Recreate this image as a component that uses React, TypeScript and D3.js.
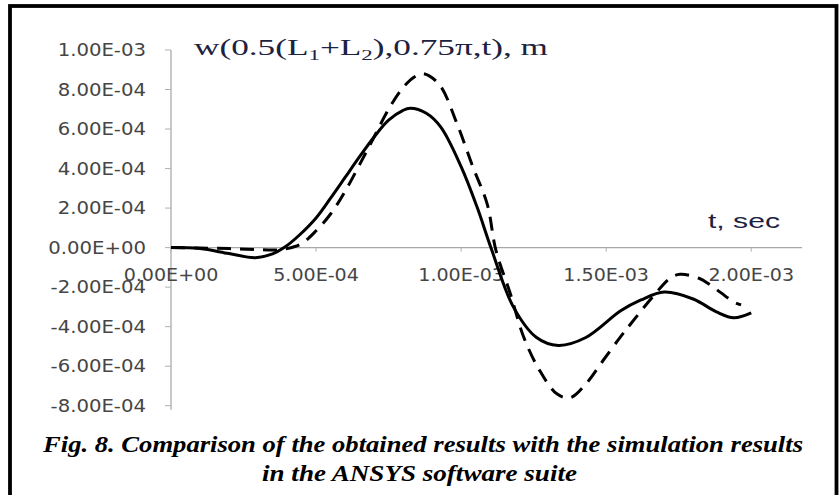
import * as d3 from "d3";

// time in seconds, deflection in metres
const solidT = [0, 1.0e-4, 2.0e-4, 2.9e-4, 3.5e-4, 3.9e-4, 4.4e-4, 5.0e-4, 5.5e-4, 6.0e-4, 6.5e-4, 7.0e-4, 7.5e-4, 8.0e-4, 8.25e-4, 8.8e-4, 9.3e-4, 10.0e-4, 10.55e-4, 11.05e-4, 11.8e-4, 12.6e-4, 13.35e-4, 14.3e-4, 15.5e-4, 16.2e-4, 17.0e-4, 18.0e-4, 18.8e-4, 19.4e-4, 20.0e-4];
const solidW = [0, -0.05e-4, -0.3e-4, -0.51e-4, -0.32e-4, 0, 0.6e-4, 1.5e-4, 2.5e-4, 3.55e-4, 4.6e-4, 5.6e-4, 6.45e-4, 6.95e-4, 7.05e-4, 6.8e-4, 6.1e-4, 4.1e-4, 2.05e-4, -0.1e-4, -3.0e-4, -4.55e-4, -4.95e-4, -4.55e-4, -3.2e-4, -2.65e-4, -2.25e-4, -2.6e-4, -3.25e-4, -3.55e-4, -3.3e-4];

const ansysT = [0, 1.0e-4, 2.0e-4, 2.9e-4, 3.6e-4, 4.0e-4, 4.5e-4, 5.0e-4, 5.5e-4, 6.0e-4, 6.5e-4, 7.0e-4, 7.5e-4, 8.0e-4, 8.4e-4, 8.7e-4, 9.25e-4, 9.85e-4, 10.4e-4, 10.9e-4, 11.2e-4, 11.7e-4, 12.15e-4, 12.7e-4, 13.3e-4, 13.75e-4, 14.3e-4, 14.9e-4, 15.5e-4, 15.85e-4, 16.6e-4, 17.2e-4, 17.55e-4, 18.2e-4, 18.6e-4, 19.4e-4, 19.65e-4];
const ansysW = [0, -0.02e-4, -0.05e-4, -0.1e-4, -0.12e-4, -0.05e-4, 0.2e-4, 0.85e-4, 1.7e-4, 2.85e-4, 4.2e-4, 5.6e-4, 7.0e-4, 8.1e-4, 8.65e-4, 8.8e-4, 8.25e-4, 6.3e-4, 4.1e-4, 2.2e-4, -0.14e-4, -2.35e-4, -4.5e-4, -6.2e-4, -7.4e-4, -7.6e-4, -6.9e-4, -5.7e-4, -4.5e-4, -3.85e-4, -2.5e-4, -1.55e-4, -1.35e-4, -1.55e-4, -1.9e-4, -2.75e-4, -2.9e-4];

const yTicks = [1e-3, 8e-4, 6e-4, 4e-4, 2e-4, 0, -2e-4, -4e-4, -6e-4, -8e-4];
const yTickLabels = ["1.00E-03", "8.00E-04", "6.00E-04", "4.00E-04", "2.00E-04", "0.00E+00", "-2.00E-04", "-4.00E-04", "-6.00E-04", "-8.00E-04"];
const xTicks = [0, 5e-4, 1e-3, 1.5e-3, 2e-3];
const xTickLabels = ["0.00E+00", "5.00E-04", "1.00E-03", "1.50E-03", "2.00E-03"];

const LABEL_FONT = "'DejaVu Sans', Verdana, sans-serif";
const LABEL_COLOR = "#454545";
const TITLE_COLOR = "#1c2240";
const SERIF = "'Liberation Serif', 'Times New Roman', serif";

export default function App() {
  const width = 840;
  const height = 495;

  const x = d3.scaleLinear().domain([0, 2.175e-3]).range([171, 802]);
  const y = d3.scaleLinear().domain([-8e-4, 1e-3]).range([405.7, 50]);

  const line = d3
    .line<[number, number]>()
    .x((d) => x(d[0]))
    .y((d) => y(d[1]))
    .curve(d3.curveCatmullRom.alpha(0.5));

  const solidPath = line(solidT.map((t, i) => [t, solidW[i]]));
  const ansysPath = line(ansysT.map((t, i) => [t, ansysW[i]]));

  const y0 = y(0);

  return (
    <svg
      width={width}
      height={height}
      style={{ position: "absolute", left: 0, top: 0, background: "#fff" }}
    >
      {/* frame */}
      <rect x={10} y={6} width={826.5} height={500} fill="none" stroke="#000" strokeWidth={3.8} />

      {/* y axis */}
      <line x1={x(0)} x2={x(0)} y1={y(1e-3)} y2={y(-8e-4) + 4} stroke="#c8c8c8" strokeWidth={2} />
      {yTicks.map((v, i) => (
        <g key={i}>
          <line x1={x(0) - 6} x2={x(0)} y1={y(v)} y2={y(v)} stroke="#b0b0b0" strokeWidth={1} />
          <text
            transform={`translate(146,${y(v)}) scale(1.125,1)`}
            textAnchor="end"
            dominantBaseline="central"
            fontFamily={LABEL_FONT}
            fontSize={17.5}
            fill={LABEL_COLOR}
          >
            {yTickLabels[i]}
          </text>
        </g>
      ))}

      {/* x axis */}
      <line x1={x(0)} x2={x.range()[1]} y1={y0} y2={y0} stroke="#a8a8a8" strokeWidth={1.2} />
      {xTicks.map((v, i) => (
        <g key={i}>
          <line x1={x(v)} x2={x(v)} y1={y0} y2={y0 + 4} stroke="#b0b0b0" strokeWidth={1} />
          <text
            transform={`translate(${x(v)},${y0 + 33}) scale(1.09,1)`}
            textAnchor="middle"
            fontFamily={LABEL_FONT}
            fontSize={17.5}
            fill={LABEL_COLOR}
          >
            {xTickLabels[i]}
          </text>
        </g>
      ))}

      {/* curves */}
      <path d={ansysPath ?? ""} fill="none" stroke="#000" strokeWidth={3} strokeDasharray="14 9" />
      <path d={solidPath ?? ""} fill="none" stroke="#000" strokeWidth={3} />

      {/* axis titles */}
      <text
        x={194}
        y={55}
        fontFamily={SERIF}
        fontSize={23}
        fill={TITLE_COLOR}
        textLength={354}
        lengthAdjust="spacingAndGlyphs"
      >
        w(0.5(L<tspan fontSize={15} dy={5}>1</tspan>
        <tspan dy={-5}>+L</tspan>
        <tspan fontSize={15} dy={5}>2</tspan>
        <tspan dy={-5}>),0.75π,t), m</tspan>
      </text>
      <text
        x={708}
        y={228}
        fontFamily="'Liberation Sans', Arial, sans-serif"
        fontSize={21}
        fill={TITLE_COLOR}
        textLength={72}
        lengthAdjust="spacingAndGlyphs"
      >
        t, sec
      </text>

      {/* caption */}
      <text
        x={43}
        y={452}
        fontFamily={SERIF}
        fontStyle="italic"
        fontWeight="bold"
        fontSize={23}
        fill="#000"
        textLength={760}
        lengthAdjust="spacingAndGlyphs"
      >
        Fig. 8. Comparison of the obtained results with the simulation results
      </text>
      <text
        x={262}
        y={481}
        fontFamily={SERIF}
        fontStyle="italic"
        fontWeight="bold"
        fontSize={23}
        fill="#000"
        textLength={315}
        lengthAdjust="spacingAndGlyphs"
      >
        in the ANSYS software suite
      </text>
    </svg>
  );
}
